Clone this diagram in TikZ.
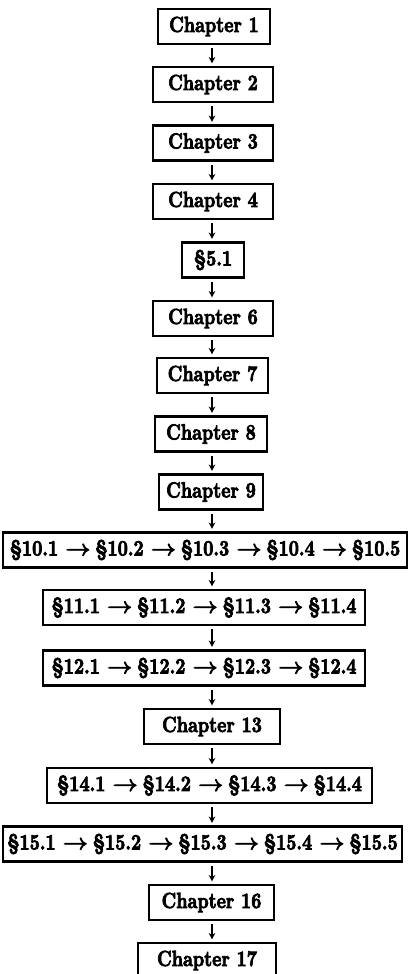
\documentclass[tikz,border=0pt]{standalone}
\usepackage{graphicx}
\usetikzlibrary{arrows.meta}
\newcommand{\arr}{\hspace{4.5pt}\scalebox{1.35}[1]{$\rightarrow$}\hspace{3pt}}
\newcommand{\tall}[1]{\special{pdf:literal direct 2 Tr 0.4 w}\scalebox{1}[1.24]{#1}\special{pdf:literal direct 0 Tr 1.1 w}}
\begin{document}
\begin{tikzpicture}[x=0.6pt,y=-0.6pt,
  box/.style={draw, line width=1.25pt, inner sep=0pt, minimum height=21pt,
    font=\fontsize{10.6}{12}\selectfont\bfseries},
  conn/.style={line width=1.1pt, -{Stealth[length=3.8pt,width=4pt]},
    shorten <=1.8pt, shorten >=1.6pt}]
\useasboundingbox (0,0) rectangle (409,974);
\coordinate (ax) at (212,0);
\node[box, minimum width=67.2pt] (n1) at (214,26.5) {\tall{Chapter 1}};
\node[box, minimum width=72pt] (n2) at (213,84.5) {\tall{Chapter 2}};
\node[box, minimum width=72pt] (n3) at (213,143) {\tall{Chapter 3}};
\node[box, minimum width=72pt] (n4) at (213,201.5) {\tall{Chapter 4}};
\node[box, minimum width=37.2pt] (n5) at (213,260) {\tall{\S5.1}};
\node[box, minimum width=72pt] (n6) at (213,318.5) {\tall{Chapter 6}};
\node[box, minimum width=66.6pt] (n7) at (212.5,375.5) {\tall{Chapter 7}};
\node[box, minimum width=67.2pt] (n8) at (211,434) {\tall{Chapter 8}};
\node[box, minimum width=62.4pt] (n9) at (211,492) {\tall{Chapter 9}};
\node[box, minimum width=242.4pt] (n10) at (205,550) {\tall{\S10.1\arr\S10.2\arr\S10.3\arr\S10.4\arr\S10.5}};
\node[box, minimum width=193.2pt] (n11) at (204,607.5) {\tall{\S11.1\arr\S11.2\arr\S11.3\arr\S11.4}};
\node[box, minimum width=193.2pt] (n12) at (204,668) {\tall{\S12.1\arr\S12.2\arr\S12.3\arr\S12.4}};
\node[box, minimum width=81.6pt] (n13) at (212,726.5) {\tall{Chapter 13}};
\node[box, minimum width=195pt] (n14) at (209.5,785.5) {\tall{\S14.1\arr\S14.2\arr\S14.3\arr\S14.4}};
\node[box, minimum width=239.4pt] (n15) at (202.5,844) {\tall{\S15.1\arr\S15.2\arr\S15.3\arr\S15.4\arr\S15.5}};
\node[box, minimum width=75pt] (n16) at (211.5,902.5) {\tall{Chapter 16}};
\node[box, minimum width=82.8pt] (n17) at (207,960.5) {\tall{Chapter 17}};
\foreach \a/\b in {n1/n2,n2/n3,n3/n4,n4/n5,n5/n6,n6/n7,n7/n8,n8/n9,n9/n10,n10/n11,n11/n12,n12/n13,n13/n14,n14/n15,n15/n16,n16/n17}
  \draw[conn] (\a.south -| ax) -- (\b.north -| ax);
\end{tikzpicture}
\end{document}
